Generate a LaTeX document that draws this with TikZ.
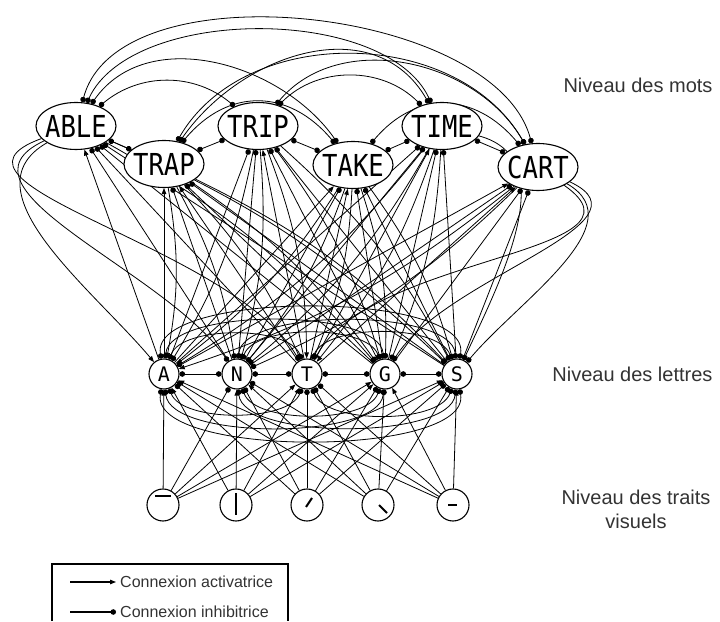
\documentclass[tikz,border=0pt]{standalone}
\usepackage{fontspec}
\setmainfont{Liberation Sans}
\newfontfamily\segfont{DejaVu Sans Mono}
\usetikzlibrary{shapes.geometric, arrows.meta, backgrounds}

\newcommand{\motlabel}[1]{\makebox[0pt][c]{\scalebox{0.95}[1.12]{#1}}}

\tikzset{
    mot/.style={ellipse, draw, line width=1.1pt, fill=white, minimum width=80pt, minimum height=47pt, inner sep=0pt, font=\segfont\fontsize{27}{27}\selectfont},
    lettre/.style={circle, draw, line width=1.1pt, fill=white, minimum size=30pt, inner sep=0pt, font=\segfont\fontsize{20}{20}\selectfont},
    trait/.style={circle, draw, line width=1.1pt, fill=white, minimum size=32pt, inner sep=0pt},
    barre/.style={line width=2pt},
    lien/.style={line width=0.8pt},
    act/.style={lien, -{Triangle[length=6pt, width=4.5pt]}},
    inh/.style={lien, -{Circle[length=5.5pt]}},
    inhb/.style={lien, {Circle[length=5.5pt]}-{Circle[length=5.5pt]}},
    niveau/.style={font=\fontsize{20}{24}\selectfont, text=black!80},
    legende/.style={font=\fontsize{16}{18}\selectfont, text=black!80, anchor=west, inner sep=1pt}
}

\begin{document}
\begin{tikzpicture}[x=1pt, y=1pt]
    \useasboundingbox (0,0) rectangle (720,621);

    % Draw nodes: niveau des mots
    \node[mot] (able) at (76,495) {\motlabel{ABLE}};
    \node[mot] (trap) at (164,457) {\motlabel{TRAP}};
    \node[mot] (trip) at (258,495) {\motlabel{TRIP}};
    \node[mot] (take) at (353,456) {\motlabel{TAKE}};
    \node[mot] (time) at (442,495) {\motlabel{TIME}};
    \node[mot] (cart) at (538,454) {\motlabel{CART}};

    % niveau des lettres
    \node[lettre] (a) at (164,247) {A};
    \node[lettre] (n) at (237,247) {N};
    \node[lettre] (t) at (307,247) {T};
    \node[lettre] (g) at (385,247) {G};
    \node[lettre] (s) at (457,247) {S};

    % niveau des traits visuels
    \node[trait] (f1) at (163,116) {};
    \node[trait] (f2) at (236,116) {};
    \node[trait] (f3) at (307,116) {};
    \node[trait] (f4) at (378,116) {};
    \node[trait] (f5) at (453,116) {};
    \draw[barre] ([shift={(-8,9)}]f1.center) -- ([shift={(8,9)}]f1.center);
    \draw[barre] ([shift={(0,-10)}]f2.center) -- ([shift={(0,12)}]f2.center);
    \draw[barre] ([shift={(-1,-2)}]f3.center) -- ([shift={(5,7)}]f3.center);
    \draw[barre] ([shift={(1,0)}]f4.center) -- ([shift={(9,-8)}]f4.center);
    \draw[barre] ([shift={(-5,0)}]f5.center) -- ([shift={(4,0)}]f5.center);

    \begin{scope}[on background layer]
        % Draw connections: mots - mots
        \foreach \u/\v in {able/trap, trap/trip, trip/take, take/time, time/cart}
            \draw[inhb] (\u) -- (\v);
        \foreach \u/\v/\o/\i/\k in {able/cart/75/105/0.8, able/time/65/115/0.8, able/take/55/125/1.0,
                                    able/trip/40/140/1.0, trap/cart/60/120/1.0, trap/time/55/120/1.1,
                                    trap/take/50/130/1.2, trip/cart/50/120/1.0, trip/time/45/135/1.0,
                                    take/cart/50/130/1.2}
            \draw[inhb] (\u) to[out=\o, in=\i, looseness=\k] (\v);

        % lettres -> mots
        \foreach \w/\s in {able/act, trap/act, trip/inh, take/act, time/inh, cart/act}
            \draw[\s] (a) -- (\w);
        \foreach \w in {able, trap, trip, take, time, cart}
            \draw[inh] (n) -- (\w);
        \foreach \w/\s in {able/inh, trap/act, trip/act, take/act, time/act, cart/act}
            \draw[\s] (t) -- (\w);
        \foreach \w in {able, trap, trip, take, time, cart}
            \draw[inh] (g) -- (\w);
        \foreach \w in {able, trap, trip, take, time, cart}
            \draw[inh] (s) -- (\w);

        % mots -> lettres
        \foreach \w/\l/\s in {able/g/inh, able/s/inh,
                              trap/a/act, trap/n/inh, trap/t/act, trap/g/inh, trap/s/inh,
                              trip/a/inh, trip/n/inh, trip/t/act, trip/g/inh, trip/s/inh,
                              take/a/act, take/n/inh, take/t/act, take/g/inh, take/s/inh,
                              time/a/inh, time/n/inh, time/t/act, time/g/inh,
                              cart/a/act, cart/n/inh}
            \draw[\s] (\w) to[bend left=10] (\l);
        \foreach \w/\l/\s/\o/\i in {able/a/act/210/130, able/n/inh/205/125, able/t/inh/200/120,
                                    cart/s/inh/-30/50, cart/g/inh/-25/58, cart/t/act/-35/62, time/s/inh/-15/65}
            \draw[\s] (\w) to[out=\o, in=\i] (\l);

        % lettres - lettres
        \foreach \u/\v in {a/n, n/t, t/g, g/s}
            \draw[inhb] (\u) -- (\v);
        \foreach \u/\v/\o/\i/\k in {a/t/70/110/0.7, n/g/70/110/0.7, t/s/70/110/0.7,
                                    a/g/85/95/0.6, n/s/85/95/0.6, a/s/100/80/0.6}
            \draw[inhb] (\u) to[out=\o, in=\i, looseness=\k] (\v);
        \foreach \u/\v/\o/\i/\k in {a/t/-70/-110/0.7, n/g/-70/-110/0.7, t/s/-70/-110/0.7,
                                    a/g/-85/-95/0.6, n/s/-85/-95/0.6, a/s/-100/-80/0.6}
            \draw[inhb] (\u) to[out=\o, in=\i, looseness=\k] (\v);

        % traits -> lettres
        \foreach \l/\s in {a/act, n/inh, t/act, g/act, s/act}
            \draw[\s] (f1) -- (\l);
        \foreach \l/\s in {a/act, n/act, t/act, g/act, s/inh}
            \draw[\s] (f2) -- (\l);
        \foreach \l in {a, n, t, g, s}
            \draw[inh] (f3) -- (\l);
        \foreach \l/\s in {a/inh, n/act, t/inh, g/inh, s/inh}
            \draw[\s] (f4) -- (\l);
        \foreach \l/\s in {a/act, n/inh, t/inh, g/act, s/act}
            \draw[\s] (f5) -- (\l);
    \end{scope}

    % Labels
    \node[niveau, anchor=east] (lmots) at (716,536) {Niveau des mots};
    \node[niveau, anchor=east] (llettres) at (716,247) {Niveau des lettres};
    \node[niveau, align=center] (ltraits) at (636,112) {Niveau des traits\\visuels};

    % Legende
    \draw[line width=1.6pt] (52,0) -- (52,57) -- (288,57) -- (288,0);
    \node[legende] (lact) at (119,39) {Connexion activatrice};
    \node[legende] (linh) at (119,9) {Connexion inhibitrice};
    \coordinate (cact) at (70,39);
    \coordinate (cinh) at (70,9);
    \draw[act, line width=1.1pt, shorten >=3pt] (cact) -- (lact);
    \draw[inh, line width=1.1pt, shorten >=3pt] (cinh) -- (linh);
\end{tikzpicture}
\end{document}
